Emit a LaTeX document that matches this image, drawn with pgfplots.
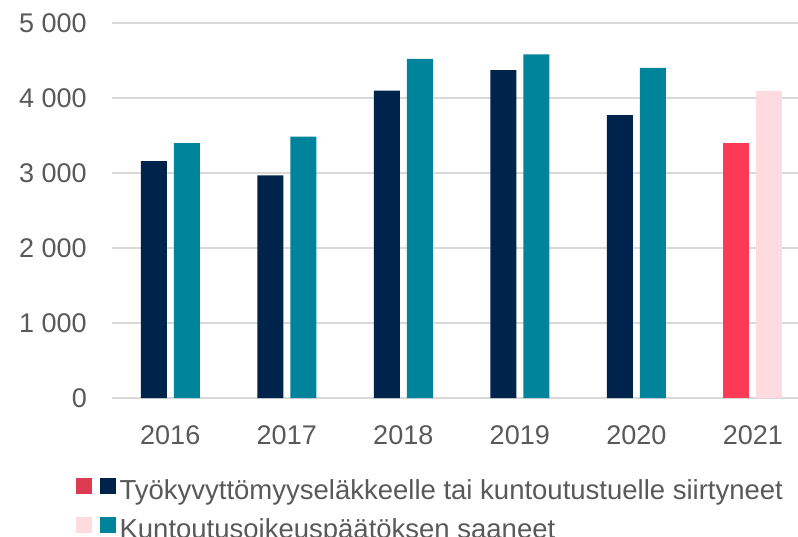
\documentclass[border=0pt]{standalone}
\usepackage{fontspec}
\setmainfont{Liberation Sans}
\usepackage{pgfplots}
\pgfplotsset{compat=1.18}

\definecolor{barNavy}{HTML}{00234B}
\definecolor{barTeal}{HTML}{00849C}
\definecolor{barRed}{HTML}{FC3A55}
\definecolor{barPink}{HTML}{FDDBE0}
\definecolor{legRed}{HTML}{DC3B52}
\definecolor{txtGray}{HTML}{595959}
\definecolor{gridGray}{HTML}{D9D9D9}

\begin{document}
\begin{tikzpicture}
\useasboundingbox (-112pt,-138pt) rectangle (686pt,398pt);
\begin{axis}[
  ybar,
  scale only axis,
  width=686pt,
  height=375pt,
  ymin=0, ymax=5000,
  xmin=-0.5, xmax=5.388,
  bar width=26pt,
  axis line style={draw=none},
  tick style={draw=none},
  ymajorgrids=true,
  grid style={gridGray, line width=1.5pt},
  ytick={0,1000,2000,3000,4000,5000},
  yticklabels={0,{1 000},{2 000},{3 000},{4 000},{5 000}},
  xtick={0,1,2,3,4,5},
  xticklabels={2016,2017,2018,2019,2020,2021},
  tick label style={font=\fontsize{27}{32}\selectfont, text=txtGray, inner sep=0pt},
  yticklabel style={xshift=-25pt},
  xticklabel style={yshift=-23pt},
  legend style={at={(-0.0525,-0.2133)}, anchor=north west, draw=none,
    fill=none, inner sep=0pt, row sep=11pt,
    font=\fontsize{27.5}{32}\selectfont, text=txtGray,
    nodes={inner sep=0pt, text height=19pt, text depth=6pt},
    /tikz/every odd column/.append style={column sep=4pt}},
  legend cell align=left,
]
\addplot[fill=barNavy, draw=none, bar shift=-16.5pt, forget plot] coordinates {
  (0,3160) (1,2970) (2,4097) (3,4373) (4,3773)
};
\addplot[fill=barTeal, draw=none, bar shift=16.5pt, forget plot] coordinates {
  (0,3400) (1,3484) (2,4520) (3,4582) (4,4400)
};
\addplot[fill=barRed, draw=none, bar shift=-16.5pt, forget plot] coordinates {
  (5,3400)
};
\addplot[fill=barPink, draw=none, bar shift=16.5pt, forget plot] coordinates {
  (5,4093)
};
\addlegendimage{legend image code/.code={
  \fill[legRed] (0pt,0pt) rectangle (15pt,15pt);
  \fill[barNavy] (24pt,0pt) rectangle (39pt,15pt);}}
\addlegendentry{Työkyvyttömyyseläkkeelle tai kuntoutustuelle siirtyneet}
\addlegendimage{legend image code/.code={
  \fill[barPink] (0pt,0pt) rectangle (15pt,15pt);
  \fill[barTeal] (24pt,0pt) rectangle (39pt,15pt);}}
\addlegendentry{Kuntoutusoikeuspäätöksen saaneet}
\end{axis}
\end{tikzpicture}
\end{document}
